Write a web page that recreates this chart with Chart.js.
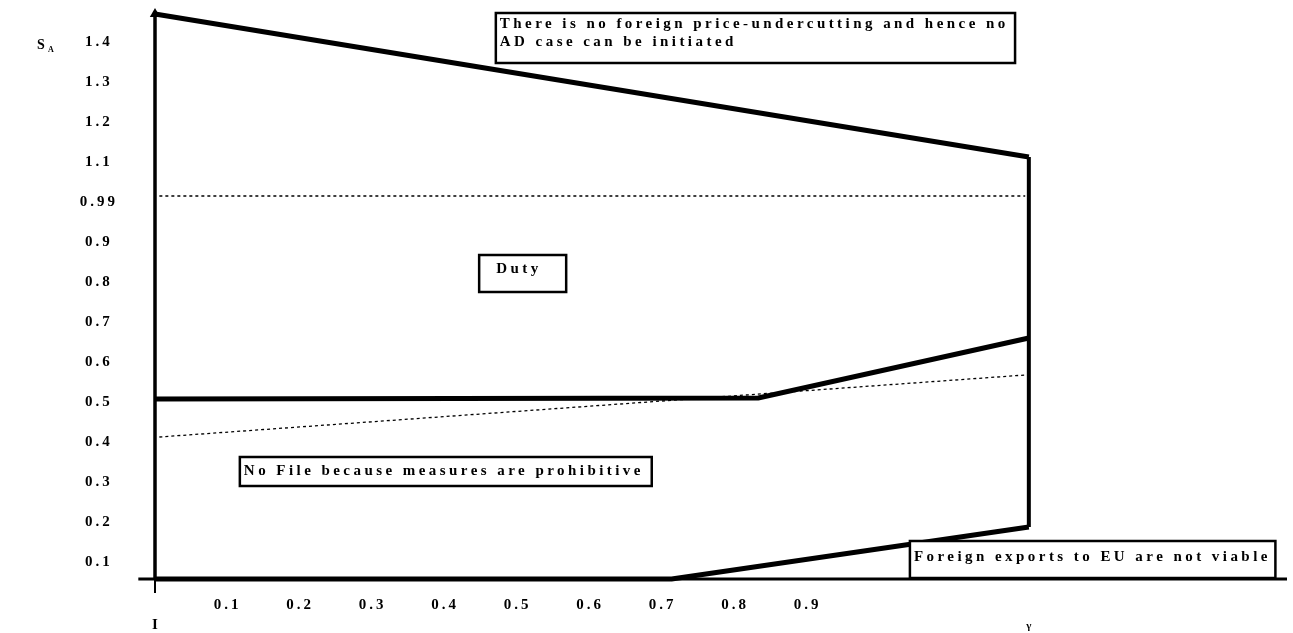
<!DOCTYPE html>
<html>
<head>
<meta charset="utf-8">
<script src="https://cdn.jsdelivr.net/npm/chart.js@4/dist/chart.umd.min.js"></script>
<style>
  html, body { margin: 0; padding: 0; background: #fff; }
  canvas { display: block; }
</style>
</head>
<body>
<canvas id="zoneChart" width="1293" height="633"></canvas>
<script>
// Деления осей
const xTicks = [0.1, 0.2, 0.3, 0.4, 0.5, 0.6, 0.7, 0.8, 0.9];
const yTicks = [0.1, 0.2, 0.3, 0.4, 0.5, 0.6, 0.7, 0.8, 0.9, 1.0, 1.1, 1.2, 1.3, 1.4];
const yTickLabels = ['0.1', '0.2', '0.3', '0.4', '0.5', '0.6', '0.7', '0.8', '0.9', '0.99', '1.1', '1.2', '1.3', '1.4'];

// Границы зон
const topEdgeX = [0, 1.205];
const topEdgeY = [1.47, 1.1125];
const leftEdgeX = [0, 0];
const leftEdgeY = [0.0575, 1.47];
const rightEdgeX = [1.205, 1.205];
const rightEdgeY = [0.1875, 1.1125];
const middleX = [0, 0.832, 1.205];
const middleY = [0.5075, 0.51, 0.66];
const bottomX = [0, 0.7125, 1.205];
const bottomY = [0.0575, 0.0575, 0.1875];
const dottedHighX = [0.006, 1.2];
const dottedHighY = [1.015, 1.015];
const dottedLowX = [0.006, 1.2];
const dottedLowY = [0.4125, 0.5675];
const baseLineX = [-0.023, 1.561];
const baseLineY = [0.0575, 0.0575];
const originTickX = [0, 0];
const originTickY = [0.0575, 0.0225];

const xMin = 0, xMax = 1.561;
const yMin = 0.0575, yMax = 1.47;

// Подписи зон
const zoneBoxes = [
    { x1: 0.470, x2: 1.186, y1: 1.4725, y2: 1.3475, padX: 4, textY: 11,
      lines: ['There is no foreign price-undercutting and hence no', 'AD case can be initiated'] },
    { x1: 0.447, x2: 0.567, y1: 0.8675, y2: 0.775, padX: 17, textY: 14, lines: ['Duty'] },
    { x1: 0.117, x2: 0.685, y1: 0.3625, y2: 0.29, padX: 4, textY: 14, lines: ['No File because measures are prohibitive'] },
    { x1: 1.041, x2: 1.545, y1: 0.1525, y2: 0.06, padX: 4, textY: 16, lines: ['Foreign exports to EU are not viable'] }
];

function pts(xs, ys) {
    return xs.map((x, i) => ({ x: x, y: ys[i] }));
}

function lineSet(xs, ys, width, extra) {
    return Object.assign({
        data: pts(xs, ys),
        showLine: true,
        borderColor: '#000',
        backgroundColor: '#000',
        borderWidth: width,
        pointRadius: 0,
        fill: false,
        tension: 0,
        clip: false
    }, extra || {});
}

const overlayPlugin = {
    id: 'overlay',
    beforeUpdate(chart) { chart.ctx.letterSpacing = '3px'; },
    beforeDraw(chart) { chart.ctx.letterSpacing = '3px'; },
    afterDatasetsDraw(chart) {
        const ctx = chart.ctx;
        const xs = chart.scales.x, ys = chart.scales.y;
        ctx.save();
        ctx.fillStyle = '#000';
        ctx.strokeStyle = '#000';

        zoneBoxes.forEach(b => {
            const left = xs.getPixelForValue(b.x1);
            const right = xs.getPixelForValue(b.x2);
            const top = ys.getPixelForValue(b.y1);
            const bottom = ys.getPixelForValue(b.y2);
            ctx.fillStyle = '#fff';
            ctx.fillRect(left, top, right - left, bottom - top);
            ctx.lineWidth = 2.5;
            ctx.strokeRect(left, top, right - left, bottom - top);
            ctx.fillStyle = '#000';
            ctx.font = 'bold 15px "Liberation Serif"';
            ctx.letterSpacing = '3.45px';
            ctx.textAlign = 'left';
            ctx.textBaseline = 'middle';
            b.lines.forEach((t, i) => ctx.fillText(t, left + b.padX, top + b.textY + i * 18));
        });

        // обозначения осей
        ctx.letterSpacing = '0px';
        const yTop = ys.getPixelForValue(1.4);
        ctx.font = 'bold 14px "Liberation Serif"';
        ctx.textAlign = 'left';
        ctx.textBaseline = 'middle';
        ctx.fillText('S', 37, yTop + 3);
        ctx.font = 'bold 8px "Liberation Serif"';
        ctx.fillText('A', 48, yTop + 8);

        ctx.font = 'bold 15px "Liberation Serif"';
        ctx.textAlign = 'center';
        ctx.fillText('I', xs.getPixelForValue(0), 625);
        ctx.font = 'bold 11px "Liberation Serif"';
        ctx.fillText('γ', xs.getPixelForValue(1.205), 626);
        ctx.restore();
        ctx.letterSpacing = '3px';
    }
};

document.addEventListener('DOMContentLoaded', function() {
    const ctx = document.getElementById('zoneChart').getContext('2d');
    new Chart(ctx, {
        type: 'scatter',
        data: {
            datasets: [
                lineSet(dottedHighX, dottedHighY, 1.3, { borderDash: [3, 3] }),
                lineSet(dottedLowX, dottedLowY, 1.3, { borderDash: [3, 3] }),
                lineSet(baseLineX, baseLineY, 3),
                lineSet(originTickX, originTickY, 2),
                lineSet(topEdgeX, topEdgeY, 5),
                lineSet(leftEdgeX, leftEdgeY, 3.5, {
                    pointStyle: 'triangle',
                    pointRadius: c => (c.dataIndex === 1 ? 6 : 0),
                    pointBorderWidth: 0
                }),
                lineSet(rightEdgeX, rightEdgeY, 4),
                lineSet(middleX, middleY, 5),
                lineSet(bottomX, bottomY, 5)
            ]
        },
        options: {
            responsive: false,
            animation: false,
            layout: { padding: { left: 0, right: 3, top: 14, bottom: 0 } },
            plugins: {
                legend: { display: false },
                tooltip: { enabled: false }
            },
            scales: {
                x: {
                    type: 'linear',
                    min: xMin,
                    max: xMax,
                    grid: { display: false, drawTicks: false },
                    border: { display: false },
                    afterBuildTicks: axis => { axis.ticks = xTicks.map(v => ({ value: v })); },
                    afterFit: axis => {
                        axis.height = 54;
                        axis.paddingLeft = 0;
                        axis.paddingRight = 0;
                    },
                    ticks: {
                        color: '#000',
                        padding: 17,
                        maxRotation: 0,
                        autoSkip: false,
                        font: { family: 'Liberation Serif', size: 15, weight: 'bold' },
                        callback: v => String(v)
                    }
                },
                y: {
                    type: 'linear',
                    min: yMin,
                    max: yMax,
                    grid: { display: false, drawTicks: false },
                    border: { display: false },
                    afterBuildTicks: axis => { axis.ticks = yTicks.map(v => ({ value: v })); },
                    afterFit: axis => {
                        axis.width = 155;
                        axis.paddingTop = 0;
                        axis.paddingBottom = 0;
                    },
                    ticks: {
                        color: '#000',
                        padding: 37,
                        crossAlign: 'center',
                        autoSkip: false,
                        font: { family: 'Liberation Serif', size: 15, weight: 'bold' },
                        callback: function(v) {
                            const i = yTicks.findIndex(t => Math.abs(t - v) < 1e-6);
                            return i >= 0 ? yTickLabels[i] : '';
                        }
                    }
                }
            }
        },
        plugins: [overlayPlugin]
    });
});
</script>
</body>
</html>
